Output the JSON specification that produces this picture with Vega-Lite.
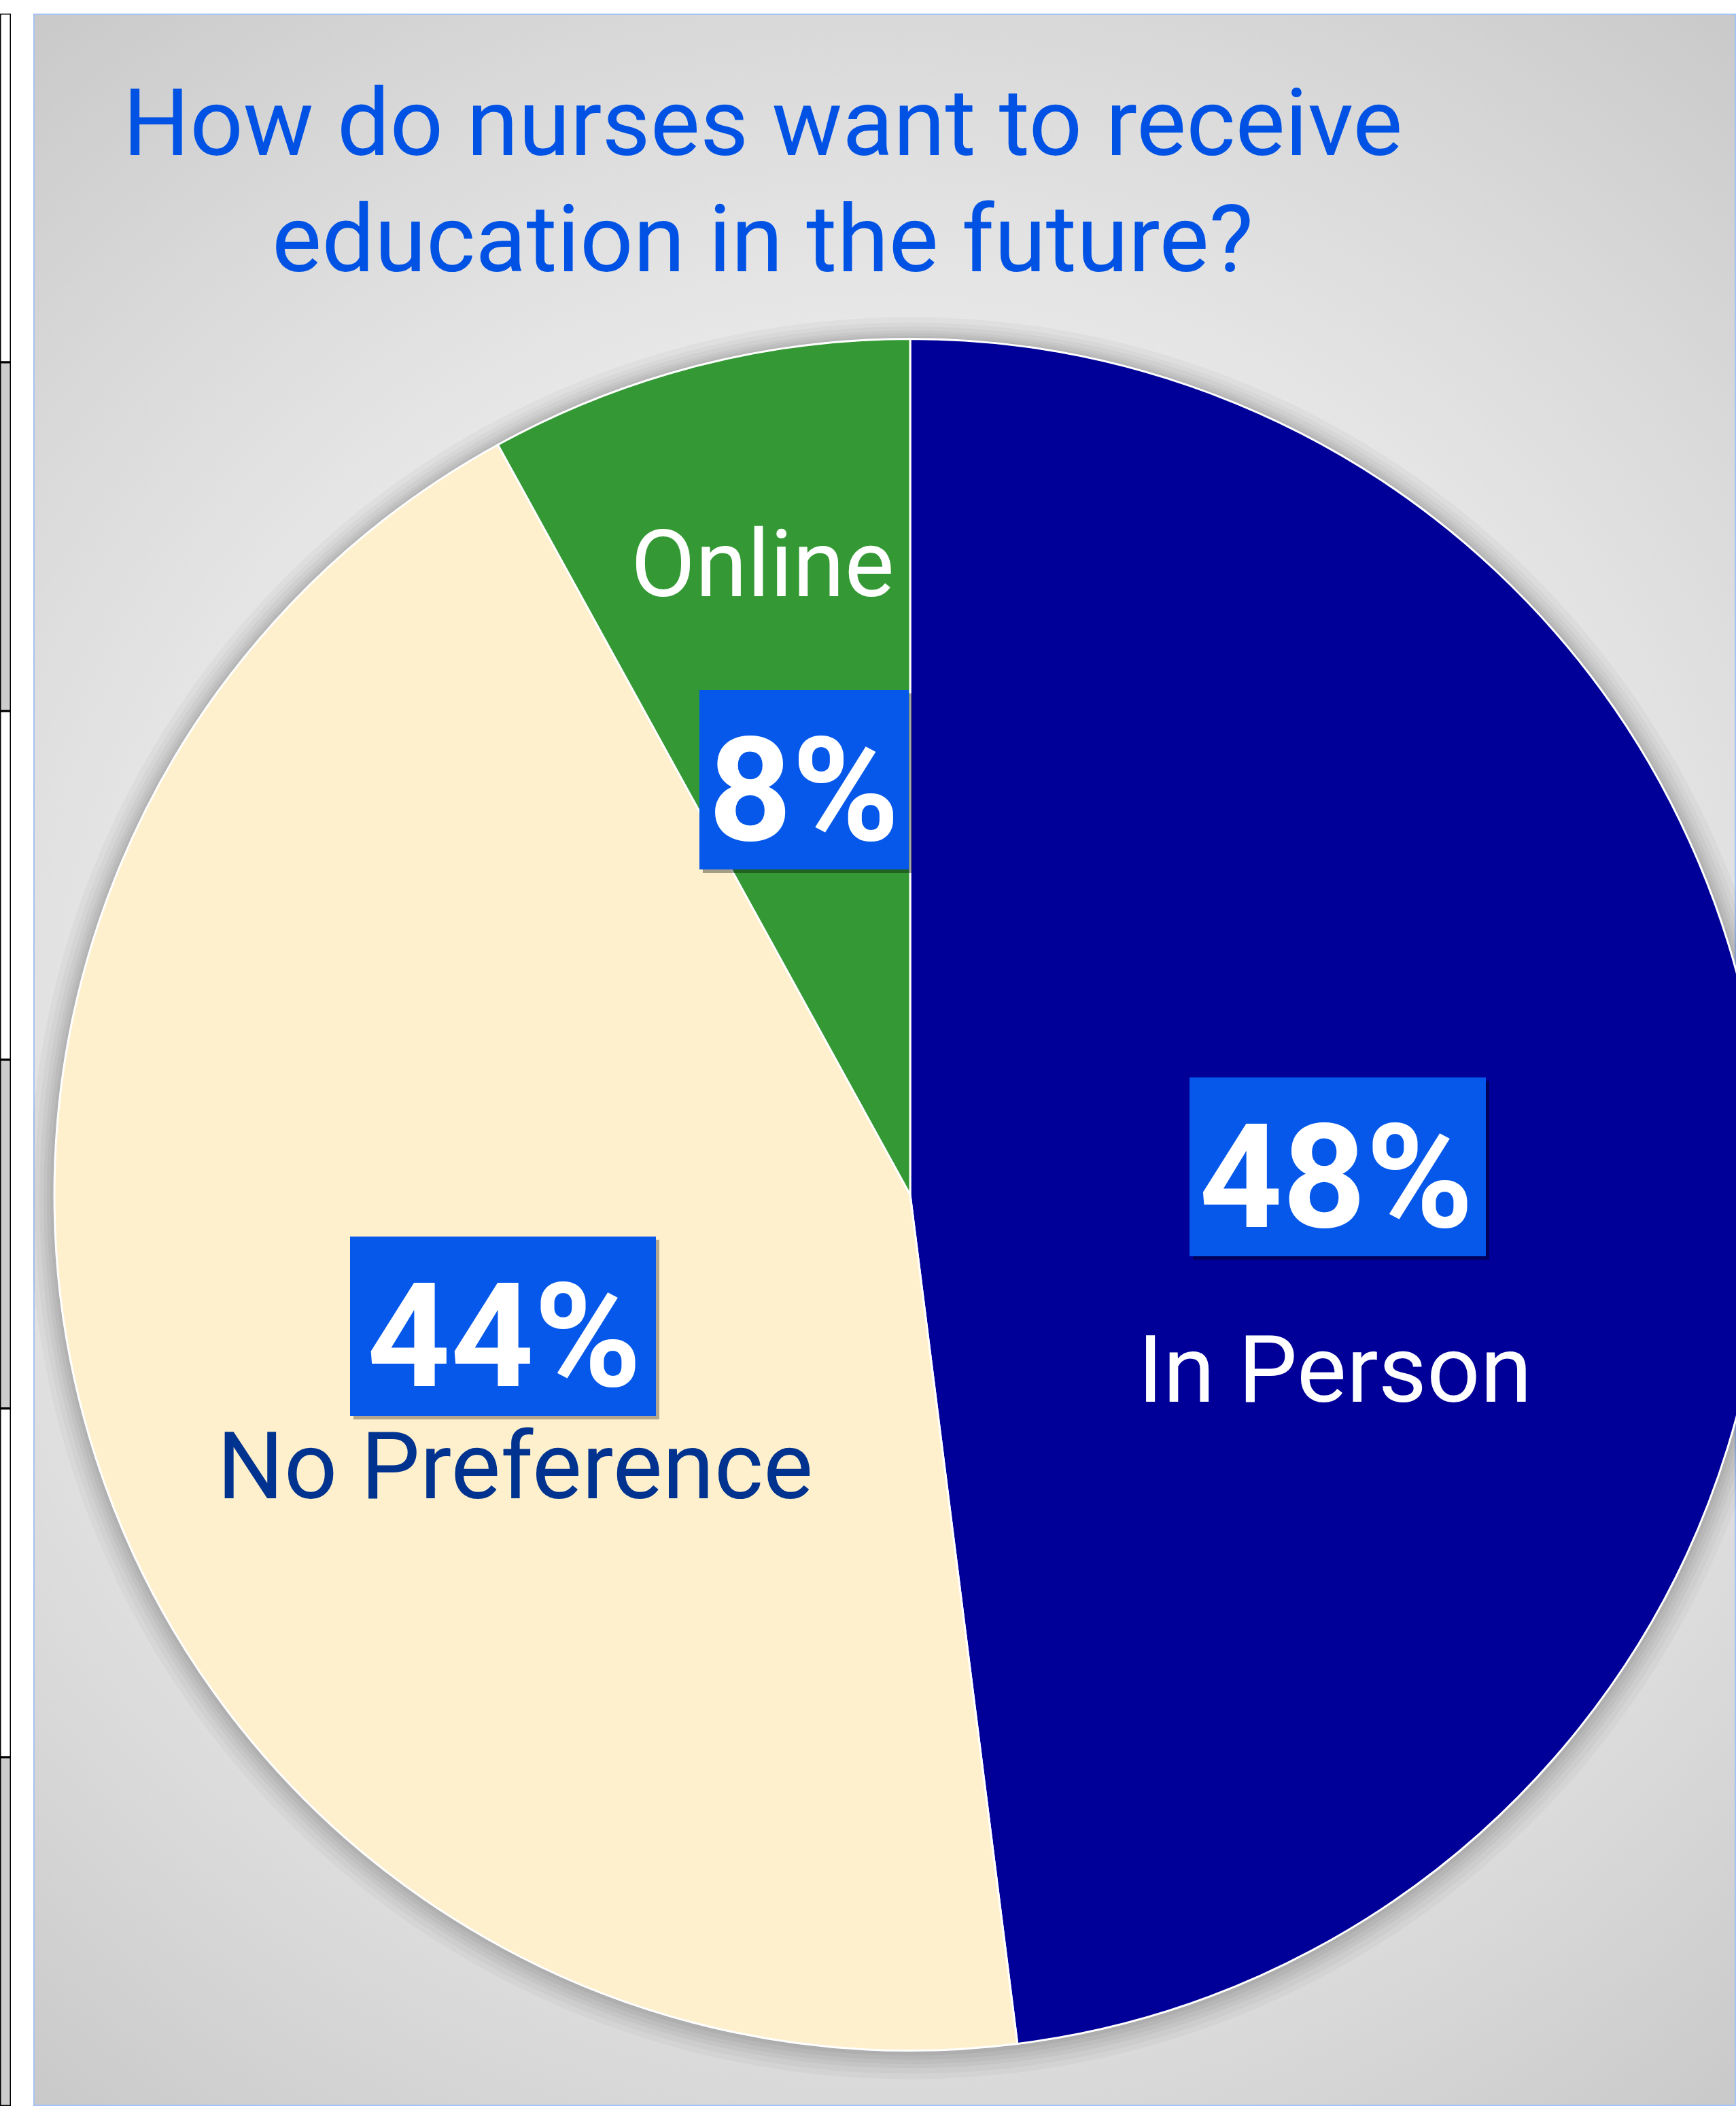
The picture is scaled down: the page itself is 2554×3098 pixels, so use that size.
{
  "$schema": "https://vega.github.io/schema/vega-lite/v6.json",
  "padding": {"left": 0, "top": 20, "right": 0, "bottom": 0},
  "background": "#ffffff",
  "spacing": 33,
  "bounds": "flush",
  "config": {"view": {"stroke": null}},
  "resolve": {"scale": {"color": "independent"}},
  "datasets": {
    "survey": [
      {"option": "In Person", "share": 0.48},
      {"option": "No Preference", "share": 0.44},
      {"option": "Online", "share": 0.08}
    ],
    "cells": [
      {"row": "r1"}, {"row": "r2"}, {"row": "r3"}, {"row": "r4"}, {"row": "r5"}, {"row": "r6"}
    ]
  },
  "hconcat": [
    {
      "width": 16,
      "height": 3078,
      "data": {"name": "cells"},
      "mark": {"type": "rect", "stroke": "#000000", "strokeWidth": 3, "clip": true},
      "encoding": {
        "y": {"field": "row", "type": "ordinal", "axis": null, "scale": {"paddingInner": 0, "paddingOuter": 0}},
        "color": {"field": "row", "type": "nominal", "legend": null,
          "scale": {"domain": ["r1", "r2", "r3", "r4", "r5", "r6"], "range": ["#ffffff", "#cccccc", "#ffffff", "#cccccc", "#ffffff", "#cccccc"]}}
      }
    },
    {
      "width": 2505,
      "height": 3078,
      "data": {"name": "survey"},
      "resolve": {"scale": {"x": "independent", "y": "independent"}},
      "layer": [
        {
          "data": {"values": [{}]},
          "mark": {
            "type": "rect",
            "clip": true,
            "stroke": "#A4C2F4",
            "strokeWidth": 4,
            "fill": {
              "gradient": "radial",
              "x1": 0.5, "y1": 0.5, "r1": 0,
              "x2": 0.5, "y2": 0.5, "r2": 0.71,
              "stops": [
                {"offset": 0, "color": "#f0f0f0"},
                {"offset": 0.45, "color": "#eaeaea"},
                {"offset": 0.7, "color": "#d9d9d9"},
                {"offset": 1, "color": "#c2c2c2"}
              ]
            }
          }
        },
        {
          "layer": [
            {
              "mark": {"type": "arc", "radius": 1296, "fill": "#000000", "opacity": 0.03, "clip": true},
              "encoding": {
                "x": {"datum": 0, "type": "quantitative", "scale": {"domain": [-1.02462, 0.96505], "nice": false, "zero": false}, "axis": null},
                "y": {"datum": -0.004, "type": "quantitative", "scale": {"domain": [-1.06473, 1.38006], "nice": false, "zero": false}, "axis": null},
                "theta": {"field": "share", "type": "quantitative", "stack": true},
                "order": {"field": "option", "type": "ordinal", "sort": "ascending"}
              }
            },
            {
              "mark": {"type": "arc", "radius": 1288, "fill": "#000000", "opacity": 0.03, "clip": true},
              "encoding": {
                "x": {"datum": 0, "type": "quantitative", "scale": {"domain": [-1.02462, 0.96505], "nice": false, "zero": false}, "axis": null},
                "y": {"datum": -0.004, "type": "quantitative", "scale": {"domain": [-1.06473, 1.38006], "nice": false, "zero": false}, "axis": null},
                "theta": {"field": "share", "type": "quantitative", "stack": true},
                "order": {"field": "option", "type": "ordinal", "sort": "ascending"}
              }
            },
            {
              "mark": {"type": "arc", "radius": 1281, "fill": "#000000", "opacity": 0.035, "clip": true},
              "encoding": {
                "x": {"datum": 0, "type": "quantitative", "scale": {"domain": [-1.02462, 0.96505], "nice": false, "zero": false}, "axis": null},
                "y": {"datum": -0.003, "type": "quantitative", "scale": {"domain": [-1.06473, 1.38006], "nice": false, "zero": false}, "axis": null},
                "theta": {"field": "share", "type": "quantitative", "stack": true},
                "order": {"field": "option", "type": "ordinal", "sort": "ascending"}
              }
            },
            {
              "mark": {"type": "arc", "radius": 1275, "fill": "#000000", "opacity": 0.035, "clip": true},
              "encoding": {
                "x": {"datum": 0, "type": "quantitative", "scale": {"domain": [-1.02462, 0.96505], "nice": false, "zero": false}, "axis": null},
                "y": {"datum": -0.003, "type": "quantitative", "scale": {"domain": [-1.06473, 1.38006], "nice": false, "zero": false}, "axis": null},
                "theta": {"field": "share", "type": "quantitative", "stack": true},
                "order": {"field": "option", "type": "ordinal", "sort": "ascending"}
              }
            },
            {
              "mark": {"type": "arc", "radius": 1270, "fill": "#000000", "opacity": 0.04, "clip": true},
              "encoding": {
                "x": {"datum": 0, "type": "quantitative", "scale": {"domain": [-1.02462, 0.96505], "nice": false, "zero": false}, "axis": null},
                "y": {"datum": -0.002, "type": "quantitative", "scale": {"domain": [-1.06473, 1.38006], "nice": false, "zero": false}, "axis": null},
                "theta": {"field": "share", "type": "quantitative", "stack": true},
                "order": {"field": "option", "type": "ordinal", "sort": "ascending"}
              }
            },
            {
              "mark": {"type": "arc", "radius": 1265, "fill": "#000000", "opacity": 0.04, "clip": true},
              "encoding": {
                "x": {"datum": 0, "type": "quantitative", "scale": {"domain": [-1.02462, 0.96505], "nice": false, "zero": false}, "axis": null},
                "y": {"datum": -0.001, "type": "quantitative", "scale": {"domain": [-1.06473, 1.38006], "nice": false, "zero": false}, "axis": null},
                "theta": {"field": "share", "type": "quantitative", "stack": true},
                "order": {"field": "option", "type": "ordinal", "sort": "ascending"}
              }
            },
            {
              "mark": {"type": "arc", "radius": 1261, "fill": "#000000", "opacity": 0.05, "clip": true},
              "encoding": {
                "x": {"datum": 0, "type": "quantitative", "scale": {"domain": [-1.02462, 0.96505], "nice": false, "zero": false}, "axis": null},
                "y": {"datum": 0, "type": "quantitative", "scale": {"domain": [-1.06473, 1.38006], "nice": false, "zero": false}, "axis": null},
                "theta": {"field": "share", "type": "quantitative", "stack": true},
                "order": {"field": "option", "type": "ordinal", "sort": "ascending"}
              }
            },
            {
              "mark": {"type": "arc", "radius": 1259, "stroke": "#ffffff", "strokeWidth": 3, "clip": true},
              "encoding": {
                "x": {"datum": 0, "type": "quantitative", "scale": {"domain": [-1.02462, 0.96505], "nice": false, "zero": false}, "axis": null},
                "y": {"datum": 0, "type": "quantitative", "scale": {"domain": [-1.06473, 1.38006], "nice": false, "zero": false}, "axis": null},
                "theta": {"field": "share", "type": "quantitative", "stack": true},
                "order": {"field": "option", "type": "ordinal", "sort": "ascending"},
                "color": {"field": "option", "type": "nominal", "legend": null,
                  "scale": {"domain": ["In Person", "No Preference", "Online"], "range": ["#000099", "#FEF0CD", "#349934"]}}
              }
            },
            {
              "transform": [{"filter": "datum.option === 'Online'"}],
              "mark": {"type": "point", "shape": "M-0.968,-0.825H1.032V0.889H-0.968Z", "size": 94864, "filled": true, "fill": "#000000", "opacity": 0.35, "strokeWidth": 0},
              "encoding": {
                "x": {"datum": -0.12391, "type": "quantitative", "scale": {"domain": [-1.02462, 0.96505], "nice": false, "zero": false}, "axis": null},
                "y": {"datum": 0.48491, "type": "quantitative", "scale": {"domain": [-1.06473, 1.38006], "nice": false, "zero": false}, "axis": null}
              }
            },
            {
              "transform": [{"filter": "datum.option === 'Online'"}],
              "mark": {"type": "point", "shape": "M-1,-0.857H1V0.857H-1Z", "size": 94864, "filled": true, "fill": "#0558EA", "opacity": 1, "strokeWidth": 0},
              "encoding": {
                "x": {"datum": -0.12391, "type": "quantitative", "scale": {"domain": [-1.02462, 0.96505], "nice": false, "zero": false}, "axis": null},
                "y": {"datum": 0.48491, "type": "quantitative", "scale": {"domain": [-1.06473, 1.38006], "nice": false, "zero": false}, "axis": null}
              }
            },
            {
              "transform": [{"filter": "datum.option === 'In Person'"}],
              "mark": {"type": "point", "shape": "M-0.977,-0.58H1.023V0.626H-0.977Z", "size": 190096, "filled": true, "fill": "#000000", "opacity": 0.4, "strokeWidth": 0},
              "encoding": {
                "x": {"datum": 0.4996, "type": "quantitative", "scale": {"domain": [-1.02462, 0.96505], "nice": false, "zero": false}, "axis": null},
                "y": {"datum": 0.03257, "type": "quantitative", "scale": {"domain": [-1.06473, 1.38006], "nice": false, "zero": false}, "axis": null}
              }
            },
            {
              "transform": [{"filter": "datum.option === 'In Person'"}],
              "mark": {"type": "point", "shape": "M-1,-0.6032H1V0.6032H-1Z", "size": 190096, "filled": true, "fill": "#0558EA", "opacity": 1, "strokeWidth": 0},
              "encoding": {
                "x": {"datum": 0.4996, "type": "quantitative", "scale": {"domain": [-1.02462, 0.96505], "nice": false, "zero": false}, "axis": null},
                "y": {"datum": 0.03257, "type": "quantitative", "scale": {"domain": [-1.06473, 1.38006], "nice": false, "zero": false}, "axis": null}
              }
            },
            {
              "transform": [{"filter": "datum.option === 'No Preference'"}],
              "mark": {"type": "point", "shape": "M-0.978,-0.565H1.022V0.609H-0.978Z", "size": 202500, "filled": true, "fill": "#000000", "opacity": 0.3, "strokeWidth": 0},
              "encoding": {
                "x": {"datum": -0.47577, "type": "quantitative", "scale": {"domain": [-1.02462, 0.96505], "nice": false, "zero": false}, "axis": null},
                "y": {"datum": -0.15369, "type": "quantitative", "scale": {"domain": [-1.06473, 1.38006], "nice": false, "zero": false}, "axis": null}
              }
            },
            {
              "transform": [{"filter": "datum.option === 'No Preference'"}],
              "mark": {"type": "point", "shape": "M-1,-0.5867H1V0.5867H-1Z", "size": 202500, "filled": true, "fill": "#0558EA", "opacity": 1, "strokeWidth": 0},
              "encoding": {
                "x": {"datum": -0.47577, "type": "quantitative", "scale": {"domain": [-1.02462, 0.96505], "nice": false, "zero": false}, "axis": null},
                "y": {"datum": -0.15369, "type": "quantitative", "scale": {"domain": [-1.06473, 1.38006], "nice": false, "zero": false}, "axis": null}
              }
            },
            {
              "mark": {"type": "text", "radius": 628, "dy": 87, "align": "center", "baseline": "alphabetic", "font": "Roboto", "fontWeight": "bold", "fontSize": 214, "fill": "#ffffff"},
              "encoding": {
                "x": {"datum": 0, "type": "quantitative", "scale": {"domain": [-1.02462, 0.96505], "nice": false, "zero": false}, "axis": null},
                "y": {"datum": 0, "type": "quantitative", "scale": {"domain": [-1.06473, 1.38006], "nice": false, "zero": false}, "axis": null},
                "theta": {"field": "share", "type": "quantitative", "stack": true},
                "order": {"field": "option", "type": "ordinal", "sort": "ascending"},
                "detail": {"field": "option", "type": "nominal"},
                "text": {"field": "share", "type": "quantitative", "format": ".0%"}
              }
            },
            {
              "mark": {"type": "text", "radius": 628, "dx": -61, "dy": -272, "align": "center", "baseline": "alphabetic", "font": "Roboto", "fontSize": 138, "fill": "#ffffff"},
              "encoding": {
                "x": {"datum": 0, "type": "quantitative", "scale": {"domain": [-1.02462, 0.96505], "nice": false, "zero": false}, "axis": null},
                "y": {"datum": 0, "type": "quantitative", "scale": {"domain": [-1.06473, 1.38006], "nice": false, "zero": false}, "axis": null},
                "theta": {"field": "share", "type": "quantitative", "stack": true},
                "order": {"field": "option", "type": "ordinal", "sort": "ascending"},
                "detail": {"field": "option", "type": "nominal"},
                "text": {"condition": {"test": "datum.option === 'Online'", "field": "option", "type": "nominal"}, "value": ""}
              }
            },
            {
              "mark": {"type": "text", "radius": 628, "dx": -2, "dy": 344, "align": "center", "baseline": "alphabetic", "font": "Roboto", "fontSize": 138, "fill": "#ffffff"},
              "encoding": {
                "x": {"datum": 0, "type": "quantitative", "scale": {"domain": [-1.02462, 0.96505], "nice": false, "zero": false}, "axis": null},
                "y": {"datum": 0, "type": "quantitative", "scale": {"domain": [-1.06473, 1.38006], "nice": false, "zero": false}, "axis": null},
                "theta": {"field": "share", "type": "quantitative", "stack": true},
                "order": {"field": "option", "type": "ordinal", "sort": "ascending"},
                "detail": {"field": "option", "type": "nominal"},
                "text": {"condition": {"test": "datum.option === 'In Person'", "field": "option", "type": "nominal"}, "value": ""}
              }
            },
            {
              "mark": {"type": "text", "radius": 628, "dx": 16, "dy": 252, "align": "center", "baseline": "alphabetic", "font": "Roboto", "fontSize": 138, "fill": "#00338F"},
              "encoding": {
                "x": {"datum": 0, "type": "quantitative", "scale": {"domain": [-1.02462, 0.96505], "nice": false, "zero": false}, "axis": null},
                "y": {"datum": 0, "type": "quantitative", "scale": {"domain": [-1.06473, 1.38006], "nice": false, "zero": false}, "axis": null},
                "theta": {"field": "share", "type": "quantitative", "stack": true},
                "order": {"field": "option", "type": "ordinal", "sort": "ascending"},
                "detail": {"field": "option", "type": "nominal"},
                "text": {"condition": {"test": "datum.option === 'No Preference'", "field": "option", "type": "nominal"}, "value": ""}
              }
            },
            {
              "data": {"values": [{"title": "How do nurses want to receive education in the future?"}]},
              "mark": {"type": "text", "align": "center", "baseline": "alphabetic", "font": "Roboto", "fontSize": 138, "lineHeight": 171, "fill": "#0052E5"},
              "encoding": {
                "x": {"datum": -0.17236, "type": "quantitative", "scale": {"domain": [-1.02462, 0.96505], "nice": false, "zero": false}, "axis": null},
                "y": {"datum": 1.21485, "type": "quantitative", "scale": {"domain": [-1.06473, 1.38006], "nice": false, "zero": false}, "axis": null},
                "text": {"value": ["How do nurses want to receive", "education in the future?"]}
              }
            }
          ]
        }
      ]
    }
  ]
}
